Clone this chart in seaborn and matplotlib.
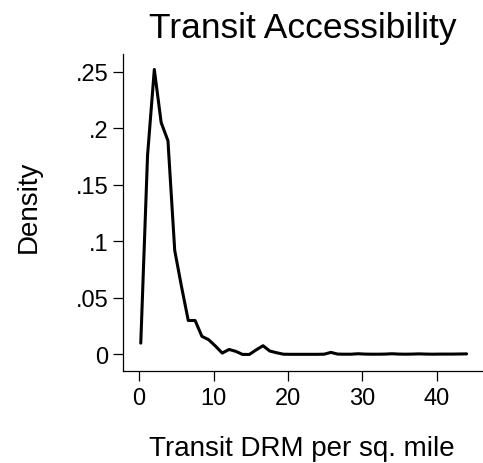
import numpy as np
import pandas as pd
import matplotlib
matplotlib.use("Agg")
import matplotlib.pyplot as plt
import seaborn as sns

# Density curve
drm = [0.23, 1.14, 2.05, 2.97, 3.88, 4.79, 5.70, 6.61, 7.53, 8.44,
       9.35, 10.26, 11.17, 12.09, 13.00, 13.91, 14.82, 15.73, 16.65, 17.56,
       18.47, 19.38, 20.29, 21.21, 22.12, 23.03, 23.94, 24.85, 25.77, 26.68,
       27.59, 28.50, 29.41, 30.33, 31.24, 32.15, 33.06, 33.97, 34.89, 35.80,
       36.71, 37.62, 38.53, 39.45, 40.36, 41.27, 42.18, 43.09, 44.00]
density = [0.010, 0.176, 0.252, 0.205, 0.189, 0.092, 0.060, 0.030, 0.030, 0.016,
           0.013, 0.0074, 0.0012, 0.0044, 0.0027, 0.0, 0.0, 0.004, 0.0077, 0.003,
           0.0015, 0.0002, 0.0001, 0.0001, 0.0001, 0.0001, 0.0001, 0.0002, 0.0018, 0.0003,
           0.0002, 0.0002, 0.0006, 0.0003, 0.0002, 0.0002, 0.0003, 0.0006, 0.0003, 0.0002,
           0.0003, 0.0005, 0.0003, 0.0002, 0.0003, 0.0003, 0.0003, 0.0004, 0.0005]

xticks = [0, 10, 20, 30, 40]
yticks = [0, 0.05, 0.1, 0.15, 0.2, 0.25]
ytick_labels = ["0", ".05", ".1", ".15", ".2", ".25"]

df = pd.DataFrame({"drm": drm, "density": density})

sns.set_style("ticks")
plt.rcParams["font.family"] = ["Liberation Sans", "DejaVu Sans"]
plt.rcParams["text.color"] = "black"
plt.rcParams["axes.labelcolor"] = "black"

fig = plt.figure(figsize=(4.83, 4.64), dpi=100)
ax = fig.add_axes([0.254, 0.198, 0.746, 0.6835])

sns.lineplot(data=df, x="drm", y="density", color="black", linewidth=2.2, ax=ax)

ax.set_xlim(-2.2, 46.2)
ax.set_ylim(-0.01477, 0.2657)
ax.set_xticks(xticks)
ax.set_xticklabels([str(t) for t in xticks])
ax.set_yticks(yticks)
ax.set_yticklabels(ytick_labels)

sns.despine(ax=ax)
for side in ["left", "bottom"]:
    ax.spines[side].set_color("black")
    ax.spines[side].set_linewidth(0.9)

ax.tick_params(axis="both", direction="out", length=7, width=0.9,
               color="black", labelsize=17, labelcolor="black")
ax.tick_params(axis="x", pad=4.3)
ax.tick_params(axis="y", pad=3.4)

ax.set_xlabel("Transit DRM per sq. mile", fontsize=20)
ax.xaxis.label.set_va("baseline")
ax.xaxis.set_label_coords(0.497, -0.263)

ax.set_ylabel("Density", fontsize=20)
ax.yaxis.label.set_va("baseline")
ax.yaxis.set_label_coords(-0.240, 0.522)

ax.set_title("Transit Accessibility", fontsize=25.5, pad=12.2)

fig.savefig("out.png", dpi=100)
